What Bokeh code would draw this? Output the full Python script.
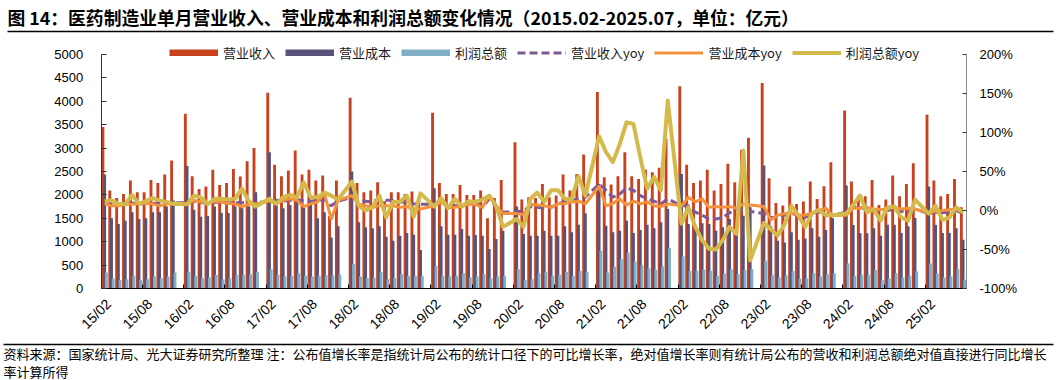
import math
from bokeh.plotting import figure
from bokeh.models import (Range1d, LinearAxis, FixedTicker, Legend, LegendItem, Label,
                          BoxAnnotation, ColumnDataSource, PrintfTickFormatter)
from bokeh.transform import dodge
from bokeh.embed import file_html
from bokeh.resources import INLINE

# ---------------- data ----------------
# months: Feb..Dec each year (Jan merged into Feb), 2015.02 - 2025.07
month_labels = []
for yr in range(2015, 2026):
    last = 7 if yr == 2025 else 12
    for m in range(2, last + 1):
        month_labels.append(f"{yr % 100:02d}/{m:02d}")

tick_labels = ["15/02", "15/08", "16/02", "16/08", "17/02", "17/08", "18/02", "18/08",
               "19/02", "19/08", "20/02", "20/08", "21/02", "21/08", "22/02", "22/08",
               "23/02", "23/08", "24/02", "24/08", "25/02"]

revenue = [  # 营业收入 (亿元)
    3449, 2092, 1935, 2021, 2306, 2056, 2056, 2320, 2256, 2435, 2735,
    3734, 2399, 2128, 2178, 2535, 2213, 2256, 2556, 2392, 2720, 3000,
    4184, 2642, 2399, 2520, 2949, 2435, 2535, 2306, 2413, 1550, 2306,
    4077, 2256, 2056, 2092, 2270, 1864, 2056, 2056, 2021, 2071, 1950,
    3756, 2256, 2021, 2021, 2213, 2000, 2000, 2092, 1500, 1935, 2320,
    3127, 1900, 1950, 1935, 2235, 1950, 1985, 2435, 2092, 2449, 2863,
    4198, 2378, 2221, 2399, 2913, 2399, 2342, 2535, 2485, 2578, 3199,
    4320, 2642, 2256, 2306, 2535, 2092, 2235, 2663, 2270, 2963, 3220,
    4391, 2356, 1828, 1771, 2178, 1806, 1857, 2285, 1914, 2185, 2699,
    3806, 2285, 1985, 1971, 2320, 1785, 1900, 2413, 1971, 2235, 2678,
    3713, 2306, 1971, 2021, 2342, 1735,
]
cost = [  # 营业成本 (亿元)
    2435, 1500, 1378, 1450, 1628, 1485, 1500, 1628, 1628, 1750, 1878,
    2620, 1685, 1535, 1550, 1750, 1614, 1614, 1750, 1714, 1750, 2056,
    2913, 1806, 1714, 1785, 1913, 1721, 1880, 1500, 1628, 1092, 1328,
    2499, 1414, 1307, 1285, 1328, 1107, 1021, 1128, 1185, 1150, 821,
    2142, 1328, 1150, 1150, 1271, 1128, 1142, 1128, 843, 1057, 1235,
    1750, 1164, 1128, 1128, 1235, 1128, 1128, 1328, 1200, 1364, 1607,
    2235, 1342, 1200, 1235, 1450, 1185, 1250, 1364, 1285, 1414, 1700,
    2449, 1378, 1307, 1393, 1378, 1235, 1307, 1485, 1378, 1557, 1735,
    2627, 1328, 1021, 985, 1200, 1042, 1071, 1285, 1107, 1250, 1500,
    2199, 1357, 1178, 1178, 1285, 1128, 1364, 1364, 1185, 1328, 1507,
    2178, 1357, 1185, 1185, 1285, 1042,
]
profit = [  # 利润总额 (亿元)
    343, 214, 179, 200, 271, 179, 200, 257, 221, 257, 343,
    357, 271, 221, 236, 293, 200, 221, 286, 286, 307, 357,
    414, 293, 257, 271, 328, 271, 257, 271, 286, 280, 300,
    521, 257, 221, 236, 357, 200, 221, 307, 271, 271, 271,
    486, 271, 257, 271, 328, 236, 257, 307, 214, 257, 271,
    414, 179, 200, 328, 357, 271, 293, 357, 271, 378, 357,
    807, 343, 464, 628, 771, 578, 500, 436, 400, 471, 864,
    686, 378, 378, 400, 378, 271, 321, 414, 307, 393, 414,
    593, 286, 236, 286, 378, 214, 214, 328, 257, 307, 328,
    536, 271, 293, 293, 393, 179, 214, 328, 236, 271, 364,
    536, 321, 236, 257, 414, 186,
]
revenue_yoy = [  # 营业收入yoy (%)
    9.5, 9, 8.5, 9, 9.5, 8, 9, 9, 9.5, 10, 10,
    10, 12, 10, 10, 11, 10, 10, 10, 10, 10, 10,
    12, 13, 12, 13, 14, 12, 12, 13, 14, 6, 12,
    17, 13, 12, 11, 15, 13, 13, 11, 11, 8.5, 8,
    8, 13, 5, 6, 6, 9, 11, 4, 15, 5, -2,
    -2, 0, 5, 4, 3, 4, 8.5, 11, 13, 15, 17,
    34, 26, 17, 21, 29, 26, 19, 15, 12, 8.5, 15,
    6, 6, -2, -6, -11, -11, -9, -3, 2, 0, -1,
    -4, -9, -9, -6, -4, -6, -9, -4, -2, -2, -6,
    -2, 4, 4, 2, 1, 0, 0, 2, -1, -2, 2,
    -4, -2, -3, -2, 0, -4,
]
cost_yoy = [  # 营业成本yoy (%)
    9, 6, 6, 8, 8, 9, 9, 8.5, 6, 8.5, 8,
    8, 13, 11, 9, 12, 11, 9, 8.5, 5, 8, 8.5,
    12, 9, 13, 15, 13, 5, 8.5, 11, 22, -11, 13,
    19, 8.5, 6, 4, 6, 6, 6, 4, 5, 2, 2,
    6, 11, 4, 4, 5.5, 8, 8, 4, 19, 6, -4,
    -4, -5, 8, 7, 6, 4, 8.5, 9, 11, 12, 8.5,
    31, 6, 9, 15, 7, 12, 8.5, 11, 6, 5, 8.5,
    6, 17, 11, 15, 4, 5, 4, 5, 3, 8.5, 7,
    5, -12, -6, -4, -3, -6, -6, -3, 0, 3, -6,
    -6, 3, 3, 4, 2, 1, 2, 4, 2, 3, 2,
    -3, -1, 0, 1, 2, -3,
]
profit_yoy = [  # 利润总额yoy (%)
    12, 13, 8.5, 8, 20, 8.5, 12, 16, 13, 11, 8.5,
    8, 19, 17, 8, 15, 15, 14, 15, 28, 12, 5,
    15, 8.5, 17, 20, 17, 36, 17, 17, 23, 19, 14,
    37, 6, 0, 4, 19, -9, 11, 11, 19, -8, 22,
    5, 16, 3, 15, 5, 12, 11, 14, 19, 6, -21,
    -11, -21, 15, 23, 11, 26, 26, 15, 14, 44, 19,
    95, 75, 62, 85, 113, 111, 68, 28, 43, 26, 141,
    -17, 4, -21, -38, -49, -50, -38, -21, -30, 77, -64,
    -16, -24, -32, -18, 6, -6, -21, -4, 1, -6, -6,
    -4, 7, 19, -2, 1, -13, 4, 5, -9, -13, 14,
    -4, 6, -12, -9, 4, -2,
]

# ---------------- styling / layout ----------------
C_REV, C_COST, C_PROF = "#C8421F", "#575277", "#80AEC6"
C_REVY, C_COSTY, C_PROFY = "#7D5A96", "#F5913C", "#D6B94B"
CJK = "Noto Sans CJK SC"
LAT = "Liberation Sans"

W, H = 1057, 380
# plot-area pixel box (left, right, top, bottom) in page pixels
PL, PR, PT, PB = 100.7, 966.0, 54.0, 288.0
NSLOT = 126
s = (PR - PL) / NSLOT
x_lo = -0.5 - PL / s
x_hi = NSLOT - 0.5 + (W - PR) / s
kL = (PB - PT) / 5000.0
y_lo, y_hi = -(H - PB) / kL, 5000 + PT / kL
kR = (PB - PT) / 300.0
r_lo, r_hi = -100 - (H - PB) / kR, 200 + PT / kR

slot = [(int(l[:2]) - 15) * 12 + int(l[3:]) - 2 for l in month_labels]
src = ColumnDataSource(dict(x=slot, rev=revenue, cost=cost, prof=profit,
                            revy=revenue_yoy, costy=cost_yoy, profy=profit_yoy))

p = figure(width=W, height=H, x_range=Range1d(x_lo, x_hi), y_range=Range1d(y_lo, y_hi),
           output_backend="svg", toolbar_location=None, min_border=0)
p.title.visible = False
p.outline_line_color = None
p.xgrid.visible = False
p.ygrid.visible = False
p.background_fill_color = "white"
p.border_fill_color = "white"
p.extra_y_ranges = {"pct": Range1d(r_lo, r_hi)}

bw = 0.42
r1 = p.vbar(x=dodge("x", -0.25, range=p.x_range), top="rev", width=bw, source=src,
            fill_color=C_REV, line_color=None)
r2 = p.vbar(x=dodge("x", 0.0, range=p.x_range), top="cost", width=bw, source=src,
            fill_color=C_COST, line_color=None)
r3 = p.vbar(x=dodge("x", 0.25, range=p.x_range), top="prof", width=bw, source=src,
            fill_color=C_PROF, line_color=None)

l1 = p.line(x="x", y="revy", source=src, y_range_name="pct", line_color=C_REVY,
            line_width=3, line_dash="8 4")
l2 = p.line(x="x", y="costy", source=src, y_range_name="pct", line_color=C_COSTY,
            line_width=3, line_join="round")
l3 = p.line(x="x", y="profy", source=src, y_range_name="pct", line_color=C_PROFY,
            line_width=4, line_join="round")

# legend proxies for bars (thick swatches like the reference)
pr1 = p.line(x="x", y="rev", source=src, line_color=C_REV, line_width=7, visible=False)
pr2 = p.line(x="x", y="cost", source=src, line_color=C_COST, line_width=7, visible=False)
pr3 = p.line(x="x", y="prof", source=src, line_color=C_PROF, line_width=7, visible=False)

# axes (fixed inside the full-canvas frame)
tick_slot = [slot[month_labels.index(t)] for t in tick_labels]
lab_pos = [t + 0.55 for t in tick_slot]   # anchor of the rotated labels
xa = p.xaxis[0]
xa.fixed_location = 0
xa.bounds = (-0.5, NSLOT - 0.5)
xa.ticker = FixedTicker(ticks=lab_pos, minor_ticks=[t - 0.5 for t in tick_slot])
xa.major_label_overrides = {t: lab for t, lab in zip(lab_pos, tick_labels)}
xa.major_label_orientation = math.pi / 4
xa.major_tick_in = 0
xa.major_tick_out = 0
xa.minor_tick_in = 4
xa.minor_tick_out = 0
xa.minor_tick_line_color = "#000000"
xa.axis_line_color = "#000000"
xa.major_label_text_font = LAT
xa.major_label_text_font_size = "14px"
xa.major_label_text_color = "#000000"
xa.major_label_standoff = 13

ya = p.yaxis[0]
ya.fixed_location = -0.5
ya.bounds = (0, 5000)
ya.ticker = FixedTicker(ticks=list(range(0, 5001, 500)))
ya.major_tick_in = 5
ya.major_tick_out = 0
ya.minor_tick_line_color = None
ya.axis_line_color = "#333333"
ya.major_tick_line_color = "#333333"
ya.major_label_text_font = LAT
ya.major_label_text_font_size = "13px"
ya.major_label_text_color = "#000000"
ya.major_label_standoff = 18

ra = LinearAxis(y_range_name="pct", ticker=FixedTicker(ticks=list(range(-100, 201, 50))),
                formatter=PrintfTickFormatter(format="%d%%"))
ra.fixed_location = NSLOT - 0.5
ra.bounds = (-100, 200)
ra.major_tick_in = 4
ra.major_tick_out = 0
ra.minor_tick_line_color = None
ra.axis_line_color = "#8C8C8C"
ra.major_tick_line_color = "#333333"
ra.major_label_text_font = LAT
ra.major_label_text_font_size = "13px"
ra.major_label_text_color = "#000000"
ra.major_label_standoff = 13
p.add_layout(ra, "right")

# legend
legend = Legend(items=[
    LegendItem(label="营业收入", renderers=[pr1]),
    LegendItem(label="营业成本", renderers=[pr2]),
    LegendItem(label="利润总额", renderers=[pr3]),
    LegendItem(label="营业收入yoy", renderers=[l1]),
    LegendItem(label="营业成本yoy", renderers=[l2]),
    LegendItem(label="利润总额yoy", renderers=[l3]),
], orientation="horizontal", location=(169, H - 61.5), glyph_width=49, glyph_height=7,
    label_standoff=5, spacing=10, padding=0, margin=0, label_height=16,
    label_text_font=CJK, label_text_font_size="13px", label_text_color="#1a1a1a",
    border_line_color=None, background_fill_alpha=0)
p.add_layout(legend)


def sy(page_y):
    return H - page_y


title = Label(x=7, y=sy(16.7), x_units="screen", y_units="screen",
              text="图 14：医药制造业单月营业收入、营业成本和利润总额变化情况（2015.02-2025.07，单位：亿元）",
              text_font=CJK, text_font_style="bold", text_font_size="17.8px",
              text_color="#000000", text_baseline="middle", text_align="left")
p.add_layout(title)

for (xl, py) in ((7, 31), (3, 344)):
    p.add_layout(BoxAnnotation(left=xl, right=1053, top=sy(py - 0.7), bottom=sy(py + 0.7),
                               left_units="screen", right_units="screen",
                               top_units="screen", bottom_units="screen",
                               fill_color="#000000", fill_alpha=1, line_color=None))

foot1 = Label(x=3, y=sy(352.5), x_units="screen", y_units="screen",
              text="资料来源：国家统计局、光大证券研究所整理 注：公布值增长率是指统计局公布的统计口径下的可比增长率，绝对值增长率则有统计局公布的营收和利润总额绝对值直接进行同比增长",
              text_font=CJK, text_font_size="13px", text_color="#000000",
              text_baseline="middle", text_align="left")
foot2 = Label(x=3, y=sy(371), x_units="screen", y_units="screen",
              text="率计算所得", text_font=CJK, text_font_size="13px", text_color="#000000",
              text_baseline="middle", text_align="left")
p.add_layout(foot1)
p.add_layout(foot2)

open("out.html", "w").write(file_html(p, INLINE))
